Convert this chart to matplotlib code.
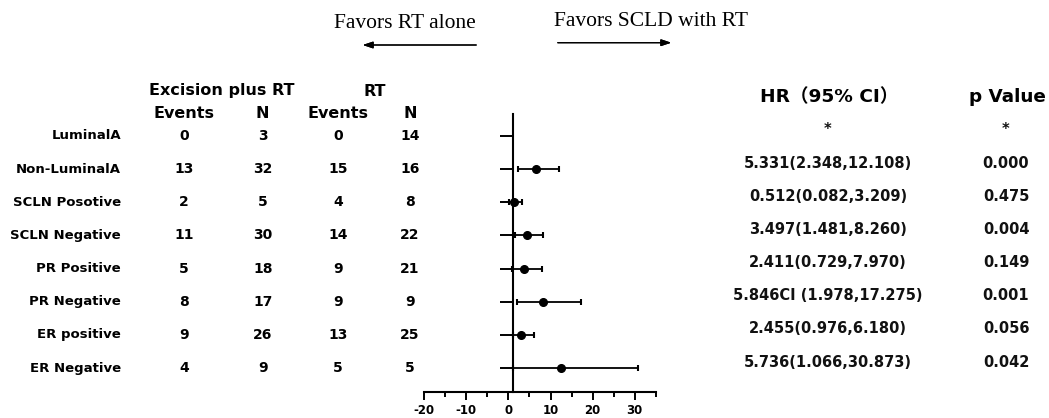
import numpy as np
import matplotlib
matplotlib.use("Agg")
import matplotlib.pyplot as plt
import matplotlib.transforms as mtransforms

plt.rcParams['font.family'] = ['DejaVu Sans']
plt.rcParams['axes.unicode_minus'] = False

# data
subgroups = ["LuminalA", "Non-LuminalA", "SCLN Posotive", "SCLN Negative",
             "PR Positive", "PR Negative", "ER positive", "ER Negative"]
exc_events = [0, 13, 2, 11, 5, 8, 9, 4]
exc_n = [3, 32, 5, 30, 18, 17, 26, 9]
rt_events = [0, 15, 4, 14, 9, 9, 13, 5]
rt_n = [14, 16, 8, 22, 21, 9, 25, 5]
# plotted point positions and CI bounds
point = [np.nan, 6.6, 1.4, 4.4, 3.7, 8.3, 3.0, 12.5]
ci_low = [np.nan, 2.348, 0.082, 1.481, 0.729, 1.978, 0.976, 1.066]
ci_high = [np.nan, 12.108, 3.209, 8.260, 7.970, 17.275, 6.180, 30.873]
hr_text = ["*", "5.331(2.348,12.108)", "0.512(0.082,3.209)", "3.497(1.481,8.260)",
           "2.411(0.729,7.970)", "5.846CI (1.978,17.275)", "2.455(0.976,6.180)",
           "5.736(1.066,30.873)"]
p_text = ["*", "0.000", "0.475", "0.004", "0.149", "0.001", "0.056", "0.042"]

W, H = 1049, 418
fig = plt.figure(figsize=(W / 100, H / 100), dpi=100)

# forest plot axes
ax = fig.add_axes([424.3 / W, 1 - 392 / H, (655.7 - 424.3) / W, (392 - 114) / H])
rows = np.arange(len(subgroups))
pt = np.array(point)
lo = np.array(ci_low)
hi = np.array(ci_high)
ax.errorbar(pt, rows, xerr=[pt - lo, hi - pt], fmt='o', color='black',
            ms=5.5, capsize=2.2, elinewidth=1.3, capthick=1.5)

ax.set_xlim(-20, 35)
ax.set_ylim(7.72, -0.66)
for s in ['top', 'right']:
    ax.spines[s].set_visible(False)
ax.spines['left'].set_position(('data', 1))
ax.spines['left'].set_linewidth(1.5)
ax.spines['bottom'].set_linewidth(1.5)
ax.set_yticks(rows)
ax.set_yticklabels([])
ax.tick_params(axis='y', length=9.4, width=1.4, direction='out')
ax.set_xticks(np.arange(-20, 31, 10))
ax.set_xticks(np.arange(-15, 36, 10), minor=True)
ax.tick_params(axis='x', which='major', length=5.8, width=1.4, pad=3,
               labelsize=8.5)
ax.tick_params(axis='x', which='minor', length=3.6, width=1.4)
for lbl in ax.get_xticklabels():
    lbl.set_fontweight('bold')

# table text: x in figure pixels -> fraction, y follows forest rows
tr = mtransforms.blended_transform_factory(fig.transFigure, ax.transData)
for i in rows:
    fig.text(121 / W, i, subgroups[i], transform=tr, ha='right', va='center',
             fontsize=9.5, fontweight='bold')
    for xc, vals in [(184, exc_events), (263, exc_n), (338, rt_events), (410, rt_n)]:
        fig.text(xc / W, i, str(vals[i]), transform=tr, ha='center', va='center',
                 fontsize=10, fontweight='bold')
    fig.text(828 / W, i - 0.18, hr_text[i], transform=tr, ha='center', va='center',
             fontsize=10.5, fontweight='bold', color='#111111')
    fig.text(1006 / W, i - 0.18, p_text[i], transform=tr, ha='center', va='center',
             fontsize=10.5, fontweight='bold', color='#111111')

# headers
fig.text(222 / W, 1 - 91 / H, "Excision plus RT", ha='center', va='center',
         fontsize=11.5, fontweight='bold')
fig.text(375 / W, 1 - 91 / H, "RT", ha='center', va='center',
         fontsize=11.5, fontweight='bold')
for xc, t in [(184, "Events"), (262, "N"), (338, "Events"), (410, "N")]:
    fig.text(xc / W, 1 - 113 / H, t, ha='center', va='center',
             fontsize=11.5, fontweight='bold')
fig.text(829 / W, 1 - 97 / H, "HR（95% CI）", ha='center', va='center',
         fontsize=13.3, fontweight='bold',
         family=['DejaVu Sans', 'Noto Sans CJK SC'])
fig.text(1007 / W, 1 - 97 / H, "p Value", ha='center', va='center',
         fontsize=13.2, fontweight='bold')

# direction labels and arrows
fig.text(404.5 / W, 1 - 23 / H, "Favors RT alone", ha='center', va='center',
         fontsize=15.5, family='Liberation Serif')
fig.text(651 / W, 1 - 21 / H, "Favors SCLD with RT", ha='center', va='center',
         fontsize=15.5, family='Liberation Serif')
arrow_kw = dict(arrowstyle='-|>,head_length=0.6,head_width=0.2', color='black', lw=0.9)
fig.add_artist(plt.annotate("", xy=(360 / W, 1 - 45 / H), xytext=(479 / W, 1 - 45 / H),
                            xycoords='figure fraction', arrowprops=arrow_kw))
fig.add_artist(plt.annotate("", xy=(674 / W, 1 - 42.7 / H), xytext=(555 / W, 1 - 42.7 / H),
                            xycoords='figure fraction', arrowprops=arrow_kw))

fig.savefig("out.png", dpi=100)
